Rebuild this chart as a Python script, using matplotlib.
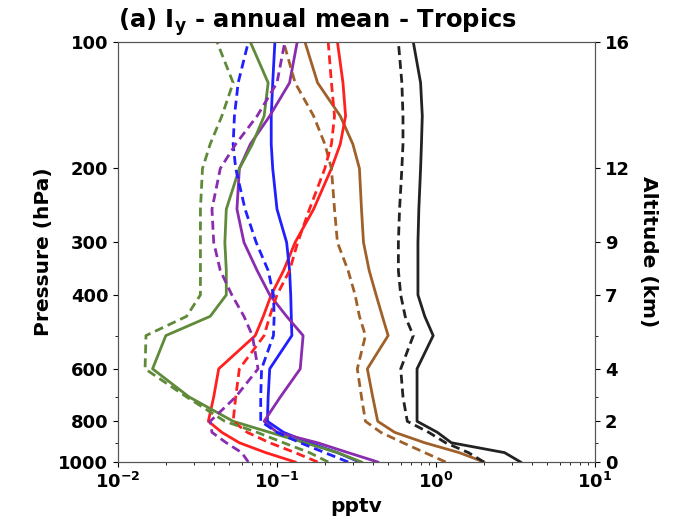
import numpy as np
import matplotlib.pyplot as plt

# pressure levels (hPa)
plev = [1000, 950, 900, 850, 800, 700, 600, 500, 450, 400, 350, 300, 250, 200, 175, 150, 125, 100]

# Iy profiles (pptv), solid / dashed pairs, ordered like plev
black_s = [3.4, 2.7, 1.25, 1.02, 0.76, 0.76, 0.76, 0.96, 0.85, 0.77, 0.77, 0.77, 0.78, 0.80, 0.81, 0.82, 0.80, 0.72]
black_d = [2.0, 1.6, 1.15, 0.90, 0.66, 0.62, 0.60, 0.72, 0.64, 0.60, 0.58, 0.58, 0.59, 0.61, 0.62, 0.62, 0.61, 0.58]
brown_s = [2.0, 1.4, 0.85, 0.55, 0.43, 0.40, 0.37, 0.50, 0.46, 0.42, 0.38, 0.35, 0.34, 0.33, 0.30, 0.25, 0.18, 0.15]
brown_d = [1.15, 0.85, 0.62, 0.45, 0.36, 0.34, 0.32, 0.36, 0.33, 0.31, 0.28, 0.24, 0.23, 0.22, 0.20, 0.17, 0.13, 0.11]
red_s = [0.13, 0.085, 0.058, 0.045, 0.037, 0.040, 0.043, 0.073, 0.082, 0.092, 0.11, 0.13, 0.17, 0.22, 0.25, 0.27, 0.26, 0.24]
red_d = [0.18, 0.13, 0.09, 0.065, 0.053, 0.055, 0.058, 0.083, 0.09, 0.10, 0.12, 0.135, 0.16, 0.20, 0.22, 0.23, 0.22, 0.21]
blue_s = [0.33, 0.24, 0.16, 0.11, 0.087, 0.088, 0.09, 0.124, 0.123, 0.122, 0.12, 0.115, 0.10, 0.094, 0.092, 0.092, 0.094, 0.097]
blue_d = [0.28, 0.20, 0.14, 0.10, 0.079, 0.079, 0.08, 0.095, 0.096, 0.095, 0.088, 0.074, 0.063, 0.055, 0.053, 0.054, 0.057, 0.066]
purple_s = [0.43, 0.28, 0.18, 0.10, 0.083, 0.105, 0.14, 0.146, 0.115, 0.09, 0.075, 0.062, 0.056, 0.058, 0.068, 0.09, 0.12, 0.134]
purple_d = [0.066, 0.06, 0.048, 0.039, 0.038, 0.055, 0.076, 0.070, 0.062, 0.052, 0.044, 0.040, 0.039, 0.044, 0.055, 0.075, 0.10, 0.112]
green_s = [0.34, 0.24, 0.15, 0.09, 0.053, 0.028, 0.0165, 0.02, 0.038, 0.048, 0.048, 0.047, 0.048, 0.058, 0.07, 0.083, 0.088, 0.068]
green_d = [0.21, 0.16, 0.11, 0.075, 0.047, 0.027, 0.0148, 0.015, 0.027, 0.033, 0.033, 0.033, 0.033, 0.034, 0.038, 0.045, 0.053, 0.042]

# tick positions on pressure axis and the altitudes shown opposite them
p_ticks = [1000, 800, 600, 400, 300, 200, 100]
z_labels = ['0', '2', '4', '7', '9', '12', '16']

c_black = '#222222'
c_brown = '#a0602a'
c_red = '#ff2020'
c_blue = '#2020ff'
c_purple = '#8a2cb0'
c_green = '#5f8a3a'

plt.rcParams['font.weight'] = 'bold'
plt.rcParams['axes.labelweight'] = 'bold'

fig = plt.figure(figsize=(6.8, 5.26), dpi=100)
ax = fig.add_axes([0.1735, 0.1217, 0.7015, 0.7983])

lw = 2.0
for vals, col in [(black_s, c_black), (brown_s, c_brown), (red_s, c_red),
                  (blue_s, c_blue), (purple_s, c_purple), (green_s, c_green)]:
    ax.plot(vals, plev, color=col, lw=lw)
for vals, col in [(black_d, c_black), (brown_d, c_brown), (red_d, c_red),
                  (blue_d, c_blue), (purple_d, c_purple), (green_d, c_green)]:
    ax.plot(vals, plev, color=col, lw=lw, ls=(0, (3.2, 1.8)))

ax.set_xscale('log')
ax.set_yscale('log')
ax.set_xlim(1e-2, 1e1)
ax.set_ylim(1000, 100)
ax.set_yticks(p_ticks)
ax.set_yticklabels([str(p) for p in p_ticks])
ax.set_xlabel('pptv', fontsize=14.5)
ax.set_ylabel('Pressure (hPa)', fontsize=14.5)
ax.tick_params(labelsize=13)
ax.tick_params(which='minor', labelleft=False)
for s in ax.spines.values():
    s.set_color('#555555')

ax2 = ax.twinx()
ax2.set_yscale('log')
ax2.set_ylim(1000, 100)
ax2.set_yticks(p_ticks)
ax2.set_yticklabels(z_labels)
ax2.tick_params(which='minor', labelright=False)
ax2.tick_params(labelsize=13)
ax2.set_ylabel('Altitude (km)', fontsize=14.5, rotation=270, labelpad=20)
for s in ax2.spines.values():
    s.set_color('#555555')

ax.set_title(r'(a) $\mathbf{I_y}$ - annual mean - Tropics', loc='left',
             fontsize=17.5, fontweight='bold', pad=10)

fig.savefig('out.png', dpi=100)
